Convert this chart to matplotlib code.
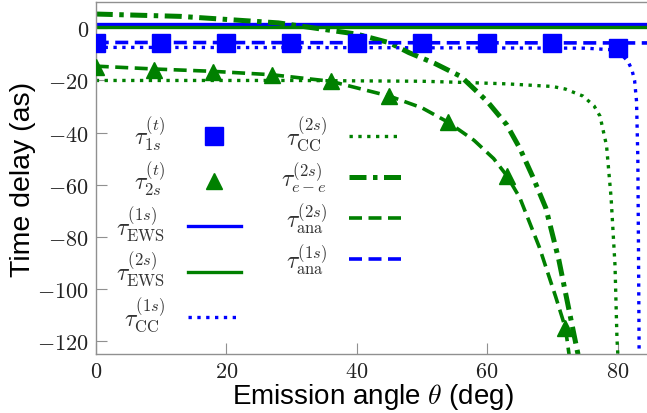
import matplotlib
matplotlib.use("Agg")
import matplotlib.pyplot as plt
from matplotlib.ticker import FuncFormatter

plt.rcParams['mathtext.fontset'] = 'cm'
plt.rcParams['font.family'] = ['Liberation Sans', 'DejaVu Sans']

# ---- data ----
ews1s_x = [0, 85]
ews1s_y = [1.7, 1.7]
ews2s_x = [0, 85]
ews2s_y = [0.7, 0.7]

ana1s_x = [0, 40, 85]
ana1s_y = [-5.4, -5.5, -5.6]

cc1s_x = [0, 40, 75, 79, 80.5, 81.6, 82.2, 82.6, 82.9, 83.1, 83.2, 83.3]
cc1s_y = [-7.3, -7.4, -7.6, -8.2, -9.8, -12.7, -16, -20, -28, -50, -85, -126]

cc2s_x = [0, 30, 50, 57, 63, 70, 72, 74.7, 76.4, 77.3, 78.3, 79.0, 79.6, 79.9, 80.05]
cc2s_y = [-20, -20, -20.3, -20.8, -21.3, -22.3, -23.3, -26, -29.8, -33.7, -45, -65, -91, -119, -126]

ee2s_x = [0, 13, 28, 40, 45, 48, 52, 56, 60, 63, 65, 67, 69, 71, 72.7, 74]
ee2s_y = [5.5, 4.6, 2.1, -2.2, -5.5, -9.3, -13.5, -18.5, -28, -37, -46, -57, -69, -89, -110, -126]

ana2s_x = [0, 9, 18, 27, 36, 45, 50, 54, 58, 61, 63, 65, 68, 70.5, 72, 72.6]
ana2s_y = [-14.5, -15.6, -16.5, -17.8, -20.3, -26, -30.5, -36, -43, -50, -56.5, -65, -84, -103, -115, -126]

t1s_x = [0, 10, 20, 30, 40, 50, 60, 70, 80]
t1s_y = [-5.5, -5.5, -5.5, -5.5, -5.5, -5.6, -5.6, -5.6, -7.5]

t2s_x = [0, 9, 18, 27, 36, 45, 54, 63, 72]
t2s_y = [-14.8, -15.8, -16.6, -17.8, -20.3, -26, -36, -56.5, -115]

xticks = [0, 20, 40, 60, 80]
yticks = [0, -20, -40, -60, -80, -100, -120]

blue = '#0000ff'
green = '#008000'

fig = plt.figure(figsize=(6.47, 4.14), dpi=100)
ax = fig.add_axes([0.148, 0.1425, 0.857, 0.8495])

h_t1s, = ax.plot(t1s_x, t1s_y, 's', color=blue, markersize=13, zorder=5, label=r'$\tau^{(t)}_{1s}$')
h_t2s, = ax.plot(t2s_x, t2s_y, '^', color=green, markersize=12, zorder=5, label=r'$\tau^{(t)}_{2s}$')
h_ews1, = ax.plot(ews1s_x, ews1s_y, '-', color=blue, lw=2.4, label=r'$\tau^{(1s)}_{\rm EWS}$')
h_ews2, = ax.plot(ews2s_x, ews2s_y, '-', color=green, lw=2.4, label=r'$\tau^{(2s)}_{\rm EWS}$')
h_cc1, = ax.plot(cc1s_x, cc1s_y, ':', color=blue, lw=2.4, label=r'$\tau^{(1s)}_{\rm CC}$')
h_cc2, = ax.plot(cc2s_x, cc2s_y, ':', color=green, lw=2.4, label=r'$\tau^{(2s)}_{\rm CC}$')
h_ee, = ax.plot(ee2s_x, ee2s_y, color=green, lw=3.6, dashes=(3.4, 1.3, 0.9, 1.3), label=r'$\tau^{(2s)}_{e-e}$')
h_ana2, = ax.plot(ana2s_x, ana2s_y, color=green, lw=2.6, dashes=(3.6, 1.8), label=r'$\tau^{(2s)}_{\rm ana}$')
h_ana1, = ax.plot(ana1s_x, ana1s_y, color=blue, lw=2.6, dashes=(3.6, 1.8), label=r'$\tau^{(1s)}_{\rm ana}$')

ax.set_xlim(0, 85)
ax.set_ylim(-125, 10)
ax.set_xticks(xticks)
ax.set_yticks(yticks)
fmt = FuncFormatter(lambda v, p: r'$%d$' % int(round(v)))
ax.xaxis.set_major_formatter(fmt)
ax.yaxis.set_major_formatter(fmt)

for s in ax.spines.values():
    s.set_color('#909090')
    s.set_linewidth(1.0)
ax.tick_params(direction='in', length=8, width=0.8, color='#909090', labelsize=16,
               top=False, right=False, pad=5)
for lab in ax.get_xticklabels() + ax.get_yticklabels():
    lab.set_color('#222222')

ax.set_xlabel(r'Emission angle $\theta$ (deg)', fontsize=20, labelpad=-1)
ax.set_ylabel('Time delay (as)', fontsize=20.5, labelpad=1)

handles = [h_t1s, h_t2s, h_ews1, h_ews2, h_cc1, h_cc2, h_ee, h_ana2, h_ana1]
leg = ax.legend(handles=handles, ncol=2, loc='upper left', bbox_to_anchor=(0.016, 0.714),
                frameon=False, markerfirst=False, fontsize=17, handlelength=2.25,
                handletextpad=0.95, columnspacing=1.7, labelspacing=0.3, borderpad=0,
                numpoints=1)
for t in leg.get_texts():
    t.set_color('#333333')

fig.savefig('out.png', dpi=100)
